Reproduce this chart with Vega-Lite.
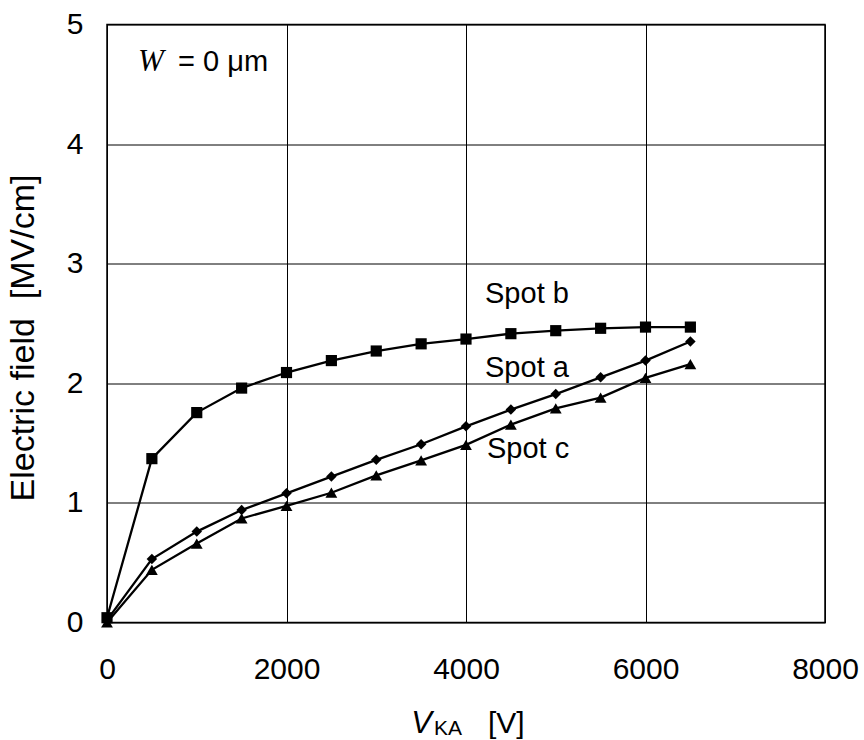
{
  "$schema": "https://vega.github.io/schema/vega-lite/v6.json",
  "autosize": "none",
  "width": 718,
  "height": 598,
  "padding": {"left": 107, "top": 24.5, "right": 39, "bottom": 117.5},
  "background": "white",
  "config": {
    "view": {"stroke": "black", "strokeWidth": 1.5},
    "font": "Liberation Sans",
    "axis": {
      "labelFont": "Liberation Sans",
      "labelColor": "black",
      "labelFontSize": 30,
      "ticks": false,
      "domain": false,
      "grid": true,
      "gridColor": "black",
      "gridOpacity": 1,
      "gridWidth": 1
    }
  },
  "datasets": {
    "curves": [
      {"series": "Spot b", "V": 0, "E": 0.04},
      {"series": "Spot b", "V": 500, "E": 1.37},
      {"series": "Spot b", "V": 1000, "E": 1.755},
      {"series": "Spot b", "V": 1500, "E": 1.96},
      {"series": "Spot b", "V": 2000, "E": 2.09},
      {"series": "Spot b", "V": 2500, "E": 2.19},
      {"series": "Spot b", "V": 3000, "E": 2.27},
      {"series": "Spot b", "V": 3500, "E": 2.33},
      {"series": "Spot b", "V": 4000, "E": 2.37},
      {"series": "Spot b", "V": 4500, "E": 2.415},
      {"series": "Spot b", "V": 5000, "E": 2.44},
      {"series": "Spot b", "V": 5500, "E": 2.46},
      {"series": "Spot b", "V": 6000, "E": 2.47},
      {"series": "Spot b", "V": 6500, "E": 2.47},
      {"series": "Spot a", "V": 0, "E": 0.02},
      {"series": "Spot a", "V": 500, "E": 0.53},
      {"series": "Spot a", "V": 1000, "E": 0.76},
      {"series": "Spot a", "V": 1500, "E": 0.94},
      {"series": "Spot a", "V": 2000, "E": 1.08},
      {"series": "Spot a", "V": 2500, "E": 1.22},
      {"series": "Spot a", "V": 3000, "E": 1.36},
      {"series": "Spot a", "V": 3500, "E": 1.49},
      {"series": "Spot a", "V": 4000, "E": 1.64},
      {"series": "Spot a", "V": 4500, "E": 1.78},
      {"series": "Spot a", "V": 5000, "E": 1.91},
      {"series": "Spot a", "V": 5500, "E": 2.05},
      {"series": "Spot a", "V": 6000, "E": 2.19},
      {"series": "Spot a", "V": 6500, "E": 2.35},
      {"series": "Spot c", "V": 0, "E": 0.0},
      {"series": "Spot c", "V": 500, "E": 0.44},
      {"series": "Spot c", "V": 1000, "E": 0.66},
      {"series": "Spot c", "V": 1500, "E": 0.87},
      {"series": "Spot c", "V": 2000, "E": 0.975},
      {"series": "Spot c", "V": 2500, "E": 1.085},
      {"series": "Spot c", "V": 3000, "E": 1.23},
      {"series": "Spot c", "V": 3500, "E": 1.355},
      {"series": "Spot c", "V": 4000, "E": 1.485},
      {"series": "Spot c", "V": 4500, "E": 1.655},
      {"series": "Spot c", "V": 5000, "E": 1.79},
      {"series": "Spot c", "V": 5500, "E": 1.88},
      {"series": "Spot c", "V": 6000, "E": 2.045},
      {"series": "Spot c", "V": 6500, "E": 2.16}
    ]
  },
  "layer": [
    {
      "data": {"name": "curves"},
      "mark": {"type": "line", "color": "black", "strokeWidth": 2.3},
      "encoding": {
        "x": {
          "field": "V", "type": "quantitative",
          "scale": {"domain": [0, 8000], "nice": false, "zero": false},
          "axis": {"values": [0, 2000, 4000, 6000, 8000], "format": "d", "labelPadding": 32, "title": null, "labelFlush": false}
        },
        "y": {
          "field": "E", "type": "quantitative",
          "scale": {"domain": [0, 5], "nice": false},
          "axis": {
            "values": [0, 1, 2, 3, 4, 5],
            "format": "d",
            "labelPadding": 24,
            "title": "Electric field\u00a0\u00a0[MV/cm]",
            "titleFont": "Liberation Sans",
            "titleFontSize": 34,
            "titleFontWeight": "normal",
            "titleColor": "black",
            "titleAngle": -90,
            "titleAlign": "center",
            "titleBaseline": "middle",
            "titleX": -84,
            "titleY": 313,
            "labelFlush": false
          }
        },
        "detail": {"field": "series"}
      }
    },
    {
      "data": {"name": "curves"},
      "mark": {"type": "point", "filled": true, "color": "black", "opacity": 1},
      "encoding": {
        "x": {"field": "V", "type": "quantitative"},
        "y": {"field": "E", "type": "quantitative"},
        "shape": {
          "field": "series", "type": "nominal",
          "scale": {"domain": ["Spot a", "Spot b", "Spot c"], "range": ["diamond", "square", "triangle-up"]},
          "legend": null
        },
        "size": {
          "field": "series", "type": "nominal",
          "scale": {"domain": ["Spot a", "Spot b", "Spot c"], "range": [110, 140, 90]},
          "legend": null
        }
      }
    },
    {
      "data": {"values": [{}]},
      "mark": {"type": "text", "text": "Spot b", "font": "Liberation Sans", "fontSize": 29, "align": "left", "baseline": "alphabetic", "color": "black"},
      "encoding": {"x": {"datum": 4212}, "y": {"datum": 2.673}}
    },
    {
      "data": {"values": [{}]},
      "mark": {"type": "text", "text": "Spot a", "font": "Liberation Sans", "fontSize": 29, "align": "left", "baseline": "alphabetic", "color": "black"},
      "encoding": {"x": {"datum": 4212}, "y": {"datum": 2.054}}
    },
    {
      "data": {"values": [{}]},
      "mark": {"type": "text", "text": "Spot c", "font": "Liberation Sans", "fontSize": 29, "align": "left", "baseline": "alphabetic", "color": "black"},
      "encoding": {"x": {"datum": 4234}, "y": {"datum": 1.377}}
    },
    {
      "data": {"values": [{}]},
      "mark": {"type": "text", "text": "W", "font": "Liberation Serif", "fontStyle": "italic", "fontSize": 31, "align": "left", "baseline": "alphabetic", "color": "black"},
      "encoding": {"x": {"datum": 345}, "y": {"datum": 4.61}}
    },
    {
      "data": {"values": [{}]},
      "mark": {"type": "text", "text": "= 0 μm", "font": "Liberation Sans", "fontSize": 29, "align": "left", "baseline": "alphabetic", "color": "black"},
      "encoding": {"x": {"datum": 791}, "y": {"datum": 4.61}}
    },
    {
      "data": {"values": [{}]},
      "mark": {"type": "text", "text": "V", "font": "Liberation Sans", "fontStyle": "italic", "fontSize": 31, "align": "right", "baseline": "alphabetic", "color": "black"},
      "encoding": {"x": {"datum": 3621}, "y": {"datum": -0.922}}
    },
    {
      "data": {"values": [{}]},
      "mark": {"type": "text", "text": "KA", "font": "Liberation Sans", "fontSize": 21, "align": "left", "baseline": "alphabetic", "color": "black"},
      "encoding": {"x": {"datum": 3643}, "y": {"datum": -0.939}}
    },
    {
      "data": {"values": [{}]},
      "mark": {"type": "text", "text": "[V]", "font": "Liberation Sans", "fontSize": 30, "align": "left", "baseline": "alphabetic", "color": "black"},
      "encoding": {"x": {"datum": 4245}, "y": {"datum": -0.922}}
    }
  ]
}
